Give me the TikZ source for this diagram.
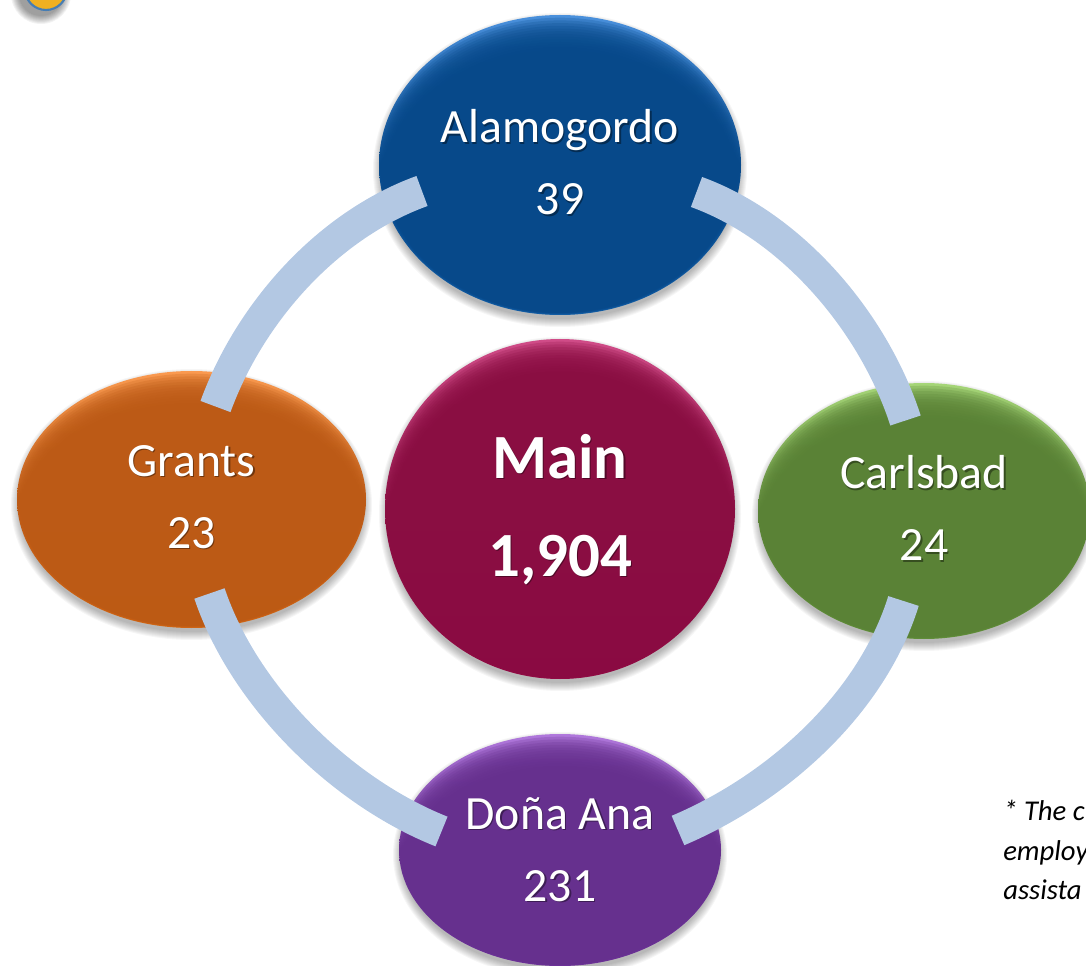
\documentclass[tikz,border=0pt]{standalone}
\usepackage{fontspec}
\setmainfont{Carlito}
\usetikzlibrary{shapes.geometric}
\definecolor{bandc}{HTML}{B3C8E3}
\definecolor{blueb}{HTML}{07498A}\definecolor{bluet}{HTML}{4A90DC}\definecolor{blueo}{HTML}{1763AC}
\definecolor{mainb}{HTML}{8A0E42}\definecolor{maint}{HTML}{D04C88}\definecolor{maino}{HTML}{940A46}
\definecolor{orgb}{HTML}{BC5A16}\definecolor{orgt}{HTML}{FA9A50}\definecolor{orgo}{HTML}{D66A14}
\definecolor{grnb}{HTML}{5A8236}\definecolor{grnt}{HTML}{A6D678}\definecolor{grno}{HTML}{64923C}
\definecolor{purb}{HTML}{66308E}\definecolor{purt}{HTML}{B078DC}\definecolor{puro}{HTML}{70349C}
\definecolor{badgef}{HTML}{EFB022}\definecolor{badged}{HTML}{467DB4}
\newcommand{\sh}[2]{\leavevmode\rlap{\kern1pt\raisebox{-1pt}{\color{#1!60!black}#2}}#2}
% x, y, rx, ry, base, top, bottom
\newcommand{\discbg}[7]{%
  \foreach \s in {1,...,9}{
    \fill[softshadow] (#1,#2+5) ellipse [x radius=#3+\s-3,y radius=#4+\s-2];
  }
  \shade[top color=#6,bottom color=#7,middle color=#5] (#1,#2) ellipse [x radius=#3,y radius=#4];
  \foreach \s in {1,...,14}{
    \pgfmathsetmacro{\rxx}{#3-\s*1.1}
    \pgfmathsetmacro{\ryy}{#4-\s*1.5}
    \pgfmathsetmacro{\cyy}{#2+\s*1.2}
    \fill[#5,fill opacity=.22] (#1,\cyy) ellipse [x radius=\rxx,y radius=\ryy];
  }
}
\tikzset{
  x=0.75pt,y=-0.75pt,
  disc/.style={ellipse,inner sep=0pt,text=white,align=center},
  band/.style={line width=24pt,draw=bandc,line cap=butt},
  softshadow/.style={fill=black,fill opacity=.035},
  labelfont/.style={font=\fontsize{35.8}{54}\selectfont},
  mainfont/.style={font=\fontsize{47.2}{73.5}\selectfont\bfseries},
  notefont/.style={font=\fontsize{21.5}{29.6}\selectfont\itshape}
}
\begin{document}
\begin{tikzpicture}
\useasboundingbox (0,0) rectangle (1086,966);
\clip (0,0) rectangle (1086,966);
% corner badge
\foreach \s in {1,...,9}{
  \fill[softshadow,fill opacity=.05] (41,-6) circle [radius=21+\s];
}
\node[circle,minimum size=31.5pt,inner sep=0pt,fill=badgef,draw=badged,line width=1.6pt] (badge) at (46,-11) {};
% discs
\discbg{560}{165}{181}{150}{blueb}{bluet}{blueo}
\discbg{560}{509}{175}{170}{mainb}{maint}{maino}
\discbg{191.5}{499.5}{174.5}{128.5}{orgb}{orgt}{orgo}
\discbg{924}{511}{166}{128}{grnb}{grnt}{grno}
\discbg{560}{850}{161}{116}{purb}{purt}{puro}
% nodes
\node[disc,minimum width=271.5pt,minimum height=225pt,labelfont] (alamo) at (560,163) {\sh{blueb}{Alamogordo}\\\sh{blueb}{39}};
\node[disc,minimum width=262.5pt,minimum height=255pt,mainfont] (main) at (560,510.5) {\sh{mainb}{Main}\\\sh{mainb}{1,904}};
\node[disc,minimum width=262.5pt,minimum height=192pt,labelfont] (grants) at (191.5,498) {\sh{orgb}{Grants}\\\sh{orgb}{23}};
\node[disc,minimum width=249pt,minimum height=192pt,labelfont] (carls) at (924,509) {\sh{grnb}{Carlsbad}\\\sh{grnb}{24}};
\node[disc,minimum width=241.5pt,minimum height=174pt,labelfont] (dona) at (560,850) {\sh{purb}{Doña Ana}\\\sh{purb}{231}};
% connector ends
\coordinate (a1) at (422,191);
\coordinate (g1) at (215.5,406.5);
\coordinate (a2) at (696.5,192);
\coordinate (c1) at (905.5,420.5);
\coordinate (c2) at (903.5,601);
\coordinate (d2) at (678,830.5);
\coordinate (g2) at (209.5,593.5);
\coordinate (d1) at (441.5,831.5);
\draw[band] (a1) .. controls (328,225) and (250,312) .. (g1);
\draw[band] (a2) .. controls (793,227) and (874,323) .. (c1);
\draw[band] (c2) .. controls (871.5,704) and (777,788.5) .. (d2);
\draw[band] (g2) .. controls (244,696) and (341,791.5) .. (d1);
% note
\node[notefont,anchor=west,align=left,text=black,inner sep=0pt] (note) at (1003,850) {* The c\\employ\\assista};
\end{tikzpicture}
\end{document}
